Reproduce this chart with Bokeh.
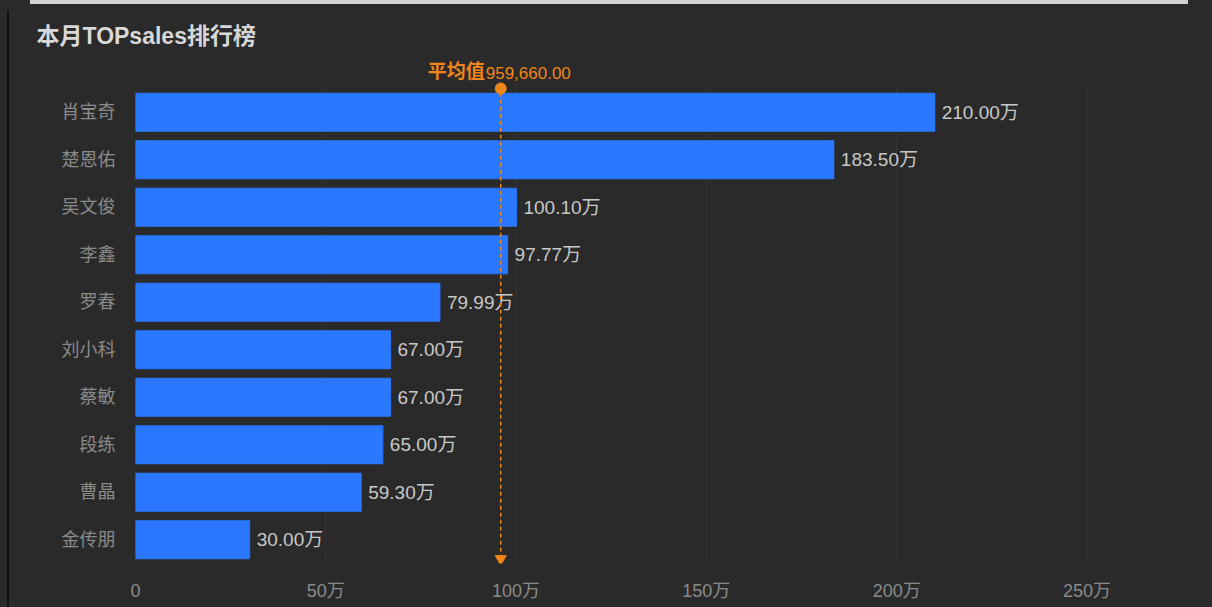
from bokeh.plotting import figure
from bokeh.models import Range1d, FixedTicker, ColumnDataSource
from bokeh.embed import file_html
from bokeh.resources import INLINE
from bokeh.core.properties import value

# ---- data ----
names = ["肖宝奇", "楚恩佑", "吴文俊", "李鑫", "罗春", "刘小科", "蔡敏", "段练", "曹晶", "金传朋"]
sales_wan = [210.00, 183.50, 100.10, 97.77, 79.99, 67.00, 67.00, 65.00, 59.30, 30.00]
avg_value = 959660.00
x_ticks = [0, 50, 100, 150, 200, 250]
x_tick_labels = ["0", "50万", "100万", "150万", "200万", "250万"]
title_text = "本月TOPsales排行榜"
avg_prefix = "平均值"

FONT = "Liberation Sans, Noto Sans CJK SC"
BG = "#2a2a2a"
BAR = "#2a78ff"
ORANGE = "#f0851a"

n = len(names)
ypos = [n - 1 - i for i in range(n)]
labels = ["%.2f万" % v for v in sales_wan]
avg_wan = avg_value / 10000.0

p = figure(width=1212, height=607, output_backend="svg", toolbar_location=None,
           x_range=Range1d(0, 262.5), y_range=Range1d(-0.5, n + 0.195),
           min_border_left=135, min_border_right=78, min_border_top=55, min_border_bottom=44)
p.background_fill_alpha = 0
p.border_fill_alpha = 0
p.outline_line_color = None
p.styles = {
    "background": ("linear-gradient(#d2d2d2, #d2d2d2) 30px 0px / 1158px 4px no-repeat, "
                   "linear-gradient(#101010, #101010) 7px 10px / 2px 597px no-repeat, " + BG),
}

# grid lines (drawn from tick list)
gx = x_ticks[1:]
p.segment(x0=gx, y0=[-0.5] * len(gx), x1=gx, y1=[n - 0.4] * len(gx),
          line_color="#363636", line_width=1)

src = ColumnDataSource(dict(y=ypos, v=sales_wan, lab=labels))
p.hbar(y="y", left=0, right="v", height=0.8, color=BAR, source=src)
p.text(x="v", y="y", text="lab", x_offset=7, text_baseline="middle", text_align="left",
       text_color="#c8c8c8", text_font_size="19px", text_font=value(FONT), source=src)

# average line
p.segment(x0=[avg_wan], y0=[-0.4], x1=[avg_wan], y1=[n - 0.5], line_color=ORANGE,
          line_width=1.5, line_dash="4 3")
p.scatter(x=[avg_wan], y=[n - 0.5], marker="circle", size=11, color=ORANGE)
p.scatter(x=[avg_wan], y=[-0.4], marker="inverted_triangle", size=11, color=ORANGE)
p.text(x=[avg_wan], y=[n - 0.5], text=[avg_prefix], x_offset=-16, y_offset=-17,
       text_align="right", text_baseline="middle", text_color=ORANGE,
       text_font_size="19px", text_font_style="bold", text_font=value(FONT))
p.text(x=[avg_wan], y=[n - 0.5], text=["{:,.2f}".format(avg_value)], x_offset=-15, y_offset=-16,
       text_align="left", text_baseline="middle", text_color=ORANGE,
       text_font_size="17px", text_font=value(FONT))

# axes
p.xaxis.ticker = FixedTicker(ticks=x_ticks)
p.xaxis.major_label_overrides = {t: l for t, l in zip(x_ticks, x_tick_labels)}
p.yaxis.ticker = FixedTicker(ticks=ypos)
p.yaxis.major_label_overrides = {y: nm for y, nm in zip(ypos, names)}
for ax in (p.xaxis, p.yaxis):
    ax.axis_line_color = None
    ax.major_tick_line_color = None
    ax.minor_tick_line_color = None
    ax.major_label_text_color = "#8a8a8a"
    ax.major_label_text_font_size = "18px"
    ax.major_label_text_font = FONT
p.xaxis.major_label_standoff = 11
p.yaxis.major_label_standoff = 14
p.xgrid.grid_line_color = None
p.ygrid.grid_line_color = None

# title
p.title.text = title_text
p.title.align = "left"
p.title.offset = -99
p.title.standoff = 13
p.title.text_color = "#d8d8d8"
p.title.text_font_size = "23px"
p.title.text_font_style = "bold"
p.title.text_font = FONT

open("out.html", "w").write(file_html(p, INLINE))
